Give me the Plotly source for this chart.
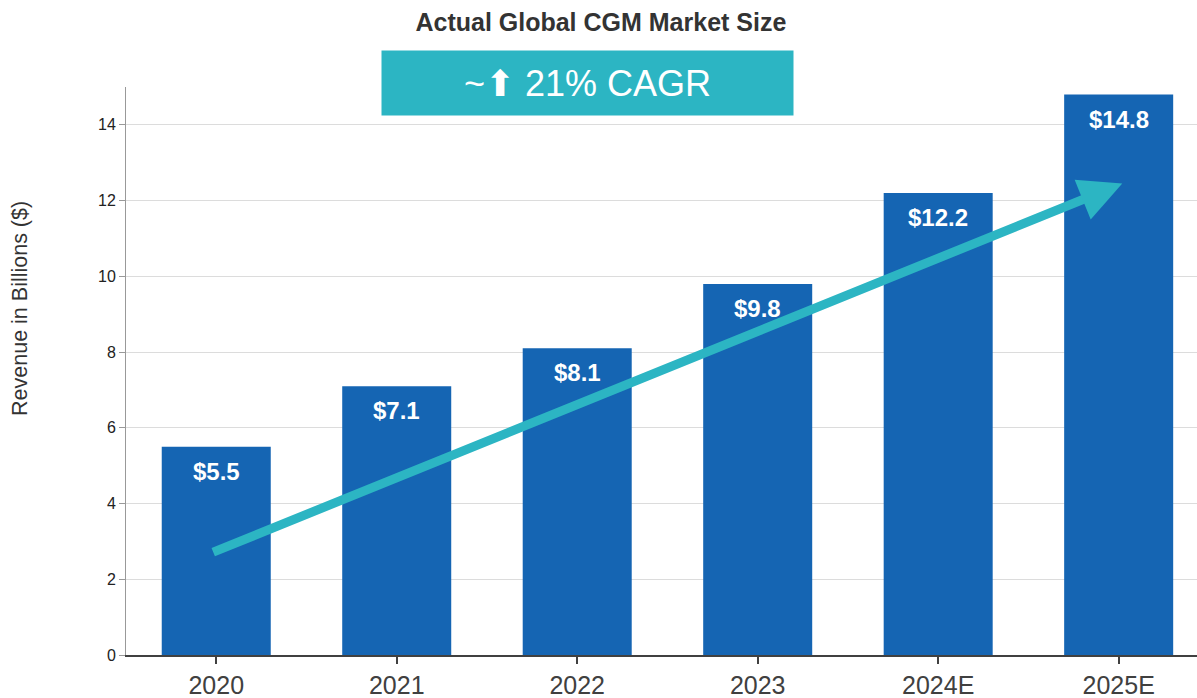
import plotly.graph_objects as go

years = ["2020", "2021", "2022", "2023", "2024E", "2025E"]
revenue = [5.5, 7.1, 8.1, 9.8, 12.2, 14.8]
labels = ["$5.5", "$7.1", "$8.1", "$9.8", "$12.2", "$14.8"]
y_ticks = [0, 2, 4, 6, 8, 10, 12, 14]

# trend arrow (category index, value)
trend_start = (-0.025, 2.7)
trend_end = (5.02, 12.45)

BAR_C = "#1565b3"
TEAL = "#2cb5c3"
FONT = "Liberation Sans, Arial, sans-serif"

fig = go.Figure()
fig.add_trace(go.Bar(
    x=list(range(len(years))), y=revenue, marker=dict(color=BAR_C, line=dict(width=0)),
    width=0.604, hoverinfo="skip", showlegend=False))

for i, (v, t) in enumerate(zip(revenue, labels)):
    fig.add_annotation(x=i, y=v, text=f"<b>{t}</b>", showarrow=False, yanchor="top",
                       yshift=-9, font=dict(color="white", size=24, family=FONT))

fig.add_annotation(x=trend_end[0], y=trend_end[1], ax=trend_start[0], ay=trend_start[1],
                   xref="x", yref="y", axref="x", ayref="y", text="", showarrow=True,
                   arrowhead=2, arrowsize=0.95, arrowwidth=9, arrowcolor=TEAL)

# CAGR badge
fig.add_annotation(x=0.431, y=1.007, xref="paper", yref="paper", xanchor="center",
                   yanchor="middle", text="~\u2b06 21% CAGR", showarrow=False,
                   bgcolor=TEAL, width=409, height=62,
                   font=dict(color="white", size=36, family=FONT))

# y-axis title placed by hand (sits above the plot's vertical centre)
fig.add_annotation(x=-0.0995, y=0.61, xref="paper", yref="paper", xanchor="center",
                   yanchor="middle", text="Revenue in Billions ($)", textangle=-90,
                   showarrow=False, font=dict(size=21.5, color="#333333", family=FONT))

fig.update_layout(
    width=1197, height=698, plot_bgcolor="white", paper_bgcolor="white",
    margin=dict(l=126, r=0, t=87, b=43),
    font=dict(family=FONT, color="#333333"),
    title=dict(text="<b>Actual Global CGM Market Size</b>", x=0.502, xanchor="center",
               y=0.968, yanchor="middle", font=dict(size=25, color="#333333")),
    bargap=0.39)

# the last category runs slightly past the right edge, as in the source
fig.update_xaxes(
    tickmode="array", tickvals=list(range(len(years))), ticktext=years,
    range=[-0.5, 5.434], tickson="boundaries", ticks="outside", ticklen=7,
    tickwidth=2, tickcolor="#404040", showline=True, linecolor="#404040", linewidth=2,
    tickfont=dict(size=25, color="#404040"), showgrid=False, zeroline=False)

fig.update_yaxes(
    range=[0, 15], tickvals=y_ticks, ticks="outside", ticklen=6, tickcolor="#999999",
    showline=True, linecolor="#999999", linewidth=1, gridcolor="#dcdcdc", gridwidth=1,
    zeroline=False, tickfont=dict(size=16, color="#222222"))

fig.write_html("out.html", config={"displayModeBar": False}, post_script=(
    "document.body.style.margin='0';document.body.style.overflow='hidden';"))
